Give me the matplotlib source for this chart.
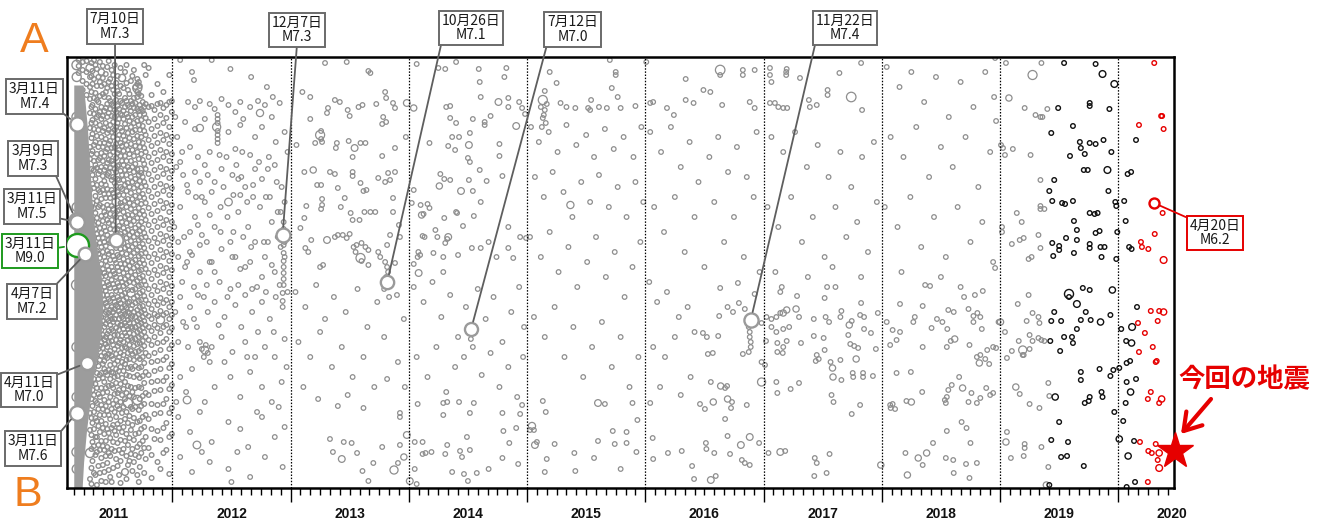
import datetime as dt
import numpy as np
import matplotlib
matplotlib.use("Agg")
import matplotlib.pyplot as plt
from matplotlib.transforms import blended_transform_factory

plt.rcParams['font.family'] = ['Noto Sans CJK JP', 'DejaVu Sans']

W, H, DPI = 1326, 526, 100

# ---------------- data ----------------
YEARS = list(range(2011, 2021))
X_START, X_END = 2011.107, 2020.467
DIST_MAX = 431          # distance along A-B (A = 0 at top)

# major earthquakes
EV_DATE = ["2011-03-09", "2011-03-11", "2011-03-11", "2011-03-11", "2011-03-11",
           "2011-04-07", "2011-04-11", "2011-07-10", "2012-12-07", "2013-10-26",
           "2014-07-12", "2016-11-22", "2020-04-20"]
EV_MAG = [7.3, 7.4, 7.5, 9.0, 7.6, 7.2, 7.0, 7.3, 7.3, 7.1, 7.0, 7.4, 6.2]
EV_DIST = [163, 67, 165, 188, 356, 197, 306, 183, 178, 225, 272, 263, 146]

STAR_DATE, STAR_MAG, STAR_DIST = "2020-06-25", 6.1, 394

# dense aftershock core of 2011 (months after 2011-01-01)
BAND_DIST = [28, 45, 73, 105, 143, 180, 200, 220, 245, 270, 295, 320, 345, 373, 405, 431]
BAND_START = [2.0] * 16
BAND_END = [2.95, 3.15, 3.4, 3.6, 3.85, 4.2, 4.5, 4.8, 4.95, 4.85, 4.5, 4.0, 3.65, 3.3, 3.0, 2.85]

# 2011 events grouped by month slice  "month: dist[/mag], ..."
EQ_2011 = """
2.3: 8/6.0, 20/5.8, 60/6.0, 150/5.8, 228/6.3, 290/6.0, 340/5.9, 395/6.0, 412/5.8;
2.5: 3, 9, 16;
2.9: 5, 13, 24, 33;
3.3: 4, 15, 27, 38;
3.65: 11/5.6, 20, 30, 42, 56, 71, 90, 102, 133, 176, 252, 270, 303, 318, 356, 373, 396/5.8, 422;
3.9: 14, 27, 48, 63, 77, 94, 118, 127, 146, 163, 185, 241, 262, 282, 297, 315, 333, 349, 366, 385, 404;
4.2: 8, 36, 52, 66, 85, 108, 122, 139, 156, 172, 188, 204, 228, 255, 270, 288, 306, 327, 344, 361, 380, 398, 418;
4.5: 20, 45, 58, 73, 90, 103, 117, 133, 150, 166, 181, 197, 213, 226, 239, 251, 263, 276, 292, 309, 322, 337, 352, 369, 388, 409;
4.8: 15/5.2, 29, 50, 62, 80, 96, 110, 127, 142, 159, 176, 190, 207, 220, 233, 246, 260, 273, 285, 299, 316, 331, 348, 364, 384, 401, 424;
5.1: 27, 40, 54, 71, 86, 99, 113, 124, 137, 155, 170, 185, 200, 216, 230, 243, 257, 270, 283, 296, 304, 312, 325, 343, 358, 377, 393, 415;
5.4: 10, 31, 47, 60, 76, 92, 106, 118, 132, 148, 163, 178, 194, 209, 225, 238, 249, 262, 277, 290, 301, 318, 335, 354, 372, 390, 406;
5.7: 22, 44, 52, 68, 84, 98, 111, 117/5.8, 141, 157, 172, 186, 203, 218, 231, 244, 253, 259, 268, 280, 294, 308, 322, 340, 362, 381, 399, 420;
6.0: 18, 33, 49, 65, 80, 95, 107, 120, 136, 152, 168, 182, 199, 214, 227, 241, 255, 265, 274, 288, 302, 316, 331, 347, 368, 385, 411;
6.3: 26, 43, 55, 70, 87, 101, 115, 129, 145/5.6, 160, 176, 191, 206, 220, 234, 248, 258, 271, 283, 297, 312, 326, 343, 360, 378, 402;
6.6: 37, 52, 62, 78, 93, 108, 123, 138, 153, 169, 185, 200, 214, 229, 243, 254, 262, 273, 286, 300, 314, 333, 352, 371, 393, 418;
6.9: 21/5.4, 46, 58, 74, 89, 104, 118, 132, 149, 165, 180, 196, 211, 225, 238, 251, 260, 268, 279, 291, 305, 321, 338, 356, 375, 396;
7.2: 15, 41, 50, 67, 83, 99, 113, 128, 144, 160, 175, 191, 207, 222, 236, 249, 257, 266, 276, 290, 307, 325, 342, 362, 384, 415/5.3;
7.5: 33, 48, 60, 76, 93, 110, 126, 142, 158, 173, 189, 204, 219, 233, 246, 255, 263, 272, 283, 296, 311, 329, 346/5.8, 366, 388, 408;
7.8: 24, 44, 54, 70, 87, 104, 120, 136, 152, 168, 184, 199, 215, 236/5.6, 252, 261, 270, 281, 294, 310, 330, 350, 373, 397;
8.1: 13, 41, 51, 66, 82, 99, 115, 131, 148, 164, 180, 196, 211, 226, 241, 255, 266, 277, 289, 303, 320, 340, 361, 383, 405;
8.45: 22, 27, 31/5.8, 35, 40, 52, 64, 79, 95, 112, 128, 145, 161, 177, 193, 209, 224, 239, 253, 264, 275, 287, 300, 318, 343/5.9, 365, 390, 418;
8.7: 29, 48, 58, 73, 90, 113/5.5, 124, 140, 157, 174, 190, 206, 221, 236, 250, 262, 273, 286, 302, 321, 342, 364, 387, 410;
9.0: 45, 54, 69, 86, 103, 120, 137, 154, 171, 187, 203, 219, 234, 249, 260, 271, 284, 300, 319, 339, 360, 384;
9.3: 18, 47, 61, 78, 95, 112, 129, 146, 163, 180, 196, 212, 228, 243, 257, 268, 280, 296, 315, 336, 358, 380, 402;
9.6: 11, 50, 65, 83, 100, 117, 134, 151, 168, 184, 200, 216, 232, 247, 259, 270, 283, 299, 318, 338, 362, 391;
9.9: 38, 49, 72, 89, 106, 123, 140, 157, 174, 190, 206, 222, 238, 252, 262, 274, 288, 305, 325, 347, 372, 398, 421;
10.2: 53, 62, 79, 96, 113, 130, 147, 164, 181, 197, 213, 229, 244, 257, 268, 280, 296, 314, 334, 357, 382;
10.5: 27, 47, 69, 86, 103, 120, 137, 154, 170, 186, 202, 218, 234, 248, 259, 271, 286, 304, 324, 348, 374, 405;
10.8: 46, 58, 76, 93, 110, 127, 144, 161, 177, 193, 209, 225, 241, 254, 263/5.6, 276, 293, 312, 333, 356, 383, 412;
11.1: 35, 51, 66, 83, 100, 117, 134, 151, 168, 184, 200, 216, 232, 246, 258, 270, 285, 303, 324, 347, 371, 396;
11.4: 48, 61, 78, 95, 112, 129, 146, 163, 179, 195, 211, 227, 243, 256, 268, 282, 300, 320, 342, 366, 393;
11.7: 18, 45, 70, 87, 104, 121, 138, 155, 172, 188, 204, 220, 236, 250, 262, 275, 292, 311, 332, 356, 380, 417;
11.95: 44, 55, 80, 97, 114, 131, 148, 165, 181, 197, 213, 229, 245, 258, 271, 288, 307, 328, 351, 377
"""

EQ_2011_B = """
3.8: 6, 19, 35, 50, 66, 81, 97, 112, 150, 196, 310, 327, 342, 361, 378, 392, 411, 427;
4.05: 3, 22, 41, 57, 72, 88, 104, 113, 131, 151, 168, 180, 197, 215, 233, 247, 275, 293, 311, 322, 338, 355, 372, 389, 416;
4.35: 12, 29, 43, 60, 79, 97, 111, 128, 144, 161, 177, 194, 209, 221, 235, 244, 258, 268, 281, 298, 316, 331, 346, 364, 380, 395, 428;
4.65: 5, 25, 39, 55, 68, 86, 101, 114, 135, 148, 171, 186, 201, 215, 230, 241, 254, 266, 280, 289, 303, 318, 340, 358, 375, 393, 416;
4.95: 9, 21, 37, 59, 74, 90, 104, 119, 133, 150, 164, 181, 195, 212, 226, 238, 251, 264, 278, 291, 307, 321, 336, 352, 371, 389, 408;
5.25: 17, 35, 51, 66, 82, 95, 110, 128, 141, 158, 174, 189, 204, 219, 234, 246, 255, 267, 280, 287, 299, 315, 331, 349, 367, 384, 399, 425;
5.55: 4, 25, 41, 56, 73, 87, 103, 116, 137, 152, 166, 183, 197, 213, 228, 242, 256, 264, 274, 285, 297, 313, 329, 345, 358, 376, 396, 413;
5.85: 13, 29, 47, 59, 75, 91, 104, 123, 133, 149, 163, 180, 195, 210, 223, 238, 250, 262, 272, 284, 299, 315, 328, 352, 371, 392, 425;
6.15: 8, 37, 53, 60, 73, 90, 112, 126, 140, 158, 173, 188, 203, 217, 231, 245, 252, 262, 278, 292, 307, 320, 337, 355, 374, 394;
6.45: 19, 34, 49, 66, 82, 96, 109, 122, 135, 154, 172, 183, 198, 210, 226, 240, 250, 266, 278, 289, 304, 319, 336, 349, 367, 386, 409;
6.75: 11, 29, 44, 57, 71, 86, 99, 114, 130, 146, 161, 177, 192, 207, 221, 234, 246, 257, 268, 283, 296, 310, 327, 345, 364, 383, 404, 426;
7.05: 31, 54, 62, 79, 94, 108, 123, 138, 155, 171, 186, 202, 216, 229, 243, 254, 262, 272, 285, 298, 314, 332, 350, 370, 392;
7.35: 8, 26, 44, 57, 71, 88, 104, 118, 134, 150, 166, 181, 197, 212, 227, 241, 251, 259, 269, 279, 291, 303, 318, 336, 355, 377, 399, 422;
7.65: 37, 50, 64, 81, 97, 113, 130, 146, 162, 178, 193, 209, 225, 245, 256, 266, 276, 288, 302, 319, 339, 359, 381, 404;
7.95: 19, 47, 60, 75, 93, 110, 125, 142, 158, 175, 190, 205, 221, 233, 248, 259, 271, 283, 297, 312, 335, 352, 368, 392, 414;
8.25: 30, 46, 58, 73, 89, 107, 122, 139, 155, 171, 187, 203, 218, 232, 246, 260, 270, 282, 295, 309, 331, 350, 377, 398;
8.6: 25, 37, 54, 68, 85, 102, 118, 134, 151, 168, 183, 199, 214, 229, 244, 257, 268, 280, 294, 311, 330, 353, 376, 400, 425;
8.85: 39, 52, 63, 80, 97, 116, 130, 147, 165, 181, 197, 213, 228, 243, 255, 266, 278, 292, 310, 331, 349, 372, 396;
9.15: 8, 50, 57, 74, 91, 107, 125, 141, 158, 176, 191, 207, 224, 239, 253, 264, 275, 289, 306, 326, 347, 370, 391, 416
"""

# later years: "month,dist[,mag]"
EQ_2012 = """
0.8,3 4.0,3 2.0,15 2.2,23 5.9,12 8.0,20 9.6,30
1.6,45 2.3,50 2.8,44 3.8,47 4.3,52 5.0,42 5.7,48 6.4,55 6.9,45 7.9,50 8.7,44 9.4,48 10.9,46 10.2,40 8.9,56,5.4
4.6,58 4.6,62 4.6,66 4.6,74 4.6,78 4.6,82 4.6,86 4.5,70,5.6 2.8,71,5.4
1.3,65 2.3,72 3.3,62 5.7,75 6.9,68 8.4,80 9.1,70 10.1,60 11.4,75 1.8,90 3.8,95 6.4,92 7.9,98 7.2,62 10.5,85 0.5,80
0.8,105 2.3,115 3.3,108 4.3,125 5.0,112 6.1,118 7.4,130 8.4,112 9.1,122 10.4,108 11.1,130 1.6,135 6.9,138 2.8,125 9.8,100 5.5,100
5.7,145,5.5 0.8,150 2.3,160 3.3,145 4.3,170 6.7,155 7.7,170 8.9,150 10.1,165 11.4,145 1.8,175 9.5,140 3.8,158
0.6,185 1.8,195 2.8,188 4.0,205 5.0,192 6.4,200 7.4,210 8.4,185 9.4,200 10.4,215 4.3,215 3.0,178 11.0,190
11.3,165 11.3,172 11.3,180 11.3,188 11.3,196 11.3,204 11.3,210 11.3,216 11.3,222 11.3,228 11.2,236 11.2,244 11.4,200 11.4,185
0.6,200 1.3,210 2.0,198 2.8,215 3.8,205 4.8,225 6.1,200 6.9,212 7.9,205 9.1,220 10.1,208 10.9,228
0.8,240 1.8,250 2.6,238 3.6,255 4.3,245 5.3,260 6.4,248 7.4,238 8.1,255 9.1,245 9.9,262 11.2,250
2.8,285 3.0,292 3.2,300 3.4,288 3.6,296 3.8,305 4.0,290 3.3,293,5.5 0.6,285 1.6,290 5.0,280 6.1,295 7.4,285 8.4,300 9.4,290 10.4,300 11.4,282 7.0,270 8.7,275
0.8,320 1.4,335 2.0,312 3.3,345 4.3,330 5.9,320 6.9,340 7.9,315 9.1,330 10.1,345 11.1,325 1.5,343,5.5
0.6,360 1.8,375 2.8,355 4.0,385 5.7,365 6.9,372 7.7,390 9.1,360 10.4,380 11.4,370 2.5,388,5.5 3.0,395
0.8,400 2.0,415 3.8,405 5.7,412 7.9,420 9.4,400 11.2,410 6.0,425
0.3,60 1.1,118 1.5,205 2.5,270 3.5,228 4.9,150 5.3,305 6.2,175 6.6,395 7.1,95 7.6,300 8.1,232 8.6,355 9.7,112
10.3,275 10.7,155 11.6,310 0.4,345 1.1,265 2.4,140 4.7,268 5.9,232 6.7,122 8.2,140 9.3,185 10.8,350 11.7,95
0.4,110 1.0,95 1.5,128 2.6,100 3.0,140 3.6,118 4.0,135 4.8,98 5.2,130 5.6,160 6.2,138 6.5,108 7.0,120
7.6,145 8.2,128 8.8,105 9.9,140 10.6,125 11.0,155 0.2,170 1.2,180 2.6,168 3.5,185 4.9,175 5.9,185 7.2,180
8.0,190 9.7,185 10.7,180 1.0,225 2.2,230 3.2,240 5.6,240 6.7,228 8.6,230 9.5,235 10.5,240 11.7,235
0.3,255 1.4,270 2.2,262
"""

EQ_2013 = """
3.5,6 5.7,5 7.9,14 8.1,16 1.2,35 2.0,40 4.5,43 5.0,45 3.8,51 5.8,53 6.9,50 7.3,48 8.7,47 9.6,35 9.7,41
10.4,46 10.6,51 3.7,56 6.0,59 9.4,60 9.7,65 9.3,67 2.0,62 3.0,78,5.8 3.1,74 3.1,82 3.2,85 2.5,86 4.7,86
4.6,91 5.9,84 6.5,91,5.3 7.1,86 7.6,86 6.3,100 9.3,99 10.6,91 11.7,80 0.6,88 2.3,113,5.2 4.0,115 4.5,117
6.3,115 6.3,119 7.1,126 7.7,133 8.9,121 9.6,125 10.1,123 10.6,115 9.9,116 1.4,115 2.7,128 3.1,128 3.2,142
3.2,148 3.1,152 1.6,149 4.8,131 5.5,141 7.4,134 5.1,150 6.1,156 6.3,163 7.0,163 7.5,155 8.1,155 8.6,155
10.4,141 10.4,155 1.0,171 1.4,161 2.1,183 1.5,191 1.8,195 3.0,210 3.3,208 3.7,183,5.3 4.5,180 4.8,178
5.3,178 5.7,181 6.0,177 6.4,190 6.7,188 7.2,186 7.6,190 7.9,193 6.6,195 7.1,201,5.8 7.2,204 7.9,208
8.9,195 9.1,200 9.8,188 10.1,178 9.6,205 9.8,210 9.9,215 9.7,220 10.6,206 11.0,168 11.1,180 11.8,46,5.3
0.5,235 1.5,250 2.6,228 3.5,262 4.4,240 5.6,255 6.8,232 7.8,270 8.8,245 10.8,238 11.5,262 0.8,285
2.0,300 3.0,275 4.2,310 5.2,290 6.3,320 7.4,300 8.5,330 9.5,280 10.9,305 11.6,330 1.3,330 2.8,342
5.8,338 9.8,322 9.5,232 10.0,240
4.8,349 7.4,351 4.0,382 5.4,385 6.2,386 4.3,395 6.75,396 9.3,390 11.1,388 11.8,378,5.3 11.1,360 11.1,356
5.2,402,5.3 8.4,406 7.3,414 10.5,413,5.6 10.9,406 11.5,400,5.2 7.9,424
"""

EQ_2014 = """
0.8,7 3.0,11 3.7,12 4.8,5 7.1,12 9.9,11 9.7,20 7.2,25 7.3,40 9.1,45,5.3 10.1,41 10.1,50 11.2,45 11.5,51
11.8,57 0.5,51,5.2 3.8,50 4.2,49 4.2,61 4.8,66 6.5,62 8.3,59 7.7,68 7.7,65 6.2,76 2.1,86 4.0,89 5.1,80
4.4,80 6.1,88,5.3 4.7,93 9.2,87 9.2,99 10.9,69,5.3 6.0,101 6.2,105 7.2,113 7.9,124 9.5,119 3.2,117
3.1,129,5.2 3.6,122 4.2,123 5.3,134,5.3 6.1,123 6.5,134 0.5,133 0.3,146 1.2,148 1.9,147 2.1,151
1.3,158,5.2 1.5,157 3.6,161 4.8,155 4.9,156 6.6,159 7.3,145 10.1,170 5.5,169 2.7,173 1.4,179 1.6,180
2.9,180 4.0,180,5.3 3.7,186 3.9,182 0.97,195 1.15,198 0.9,200 2.5,196 3.5,200 5.0,198 6.4,191 7.3,191
8.1,185 8.9,200 10.1,191 10.6,201 11.3,180 11.9,181 3.5,215 1.0,216,5.3 0.5,207
0.5,230 1.5,245 2.4,225 3.3,260 4.2,238 5.0,280 5.8,250 7.0,232 7.8,262 8.6,240 9.5,285 10.4,255
11.2,230 11.7,270 0.8,300 1.9,320 2.8,290 3.8,335 4.7,310 5.6,300 7.4,318 8.3,296 9.2,330 10.1,310
11.0,340 11.6,300 6.3,282 6.5,290
0.9,347 3.5,346 3.9,345 5.1,345 6.6,346 3.5,358 6.2,356 9.5,356 11.3,357 11.5,348 9.6,374 10.9,371
5.9,380 0.6,385 1.4,385 3.9,388 10.2,386 1.4,397 1.7,396 2.3,395 3.7,397 5.2,394 6.2,393 5.4,400
9.5,401 0.6,412 4.4,415 5.6,417 6.9,416 8.1,412 11.1,407 6.0,424 0.1,424,5.3 0.8,427
"""

EQ_2015 = """
1.6,43,5.8 1.8,53 1.6,61 1.7,58 1.9,66 1.5,70 8.4,3 9.0,15 9.0,18 2.3,15 3.0,26 1.8,34 8.6,31 9.2,40
3.4,46 4.0,50 4.9,51 6.2,51 6.4,53 7.3,50 8.1,51 9.5,51 6.5,43 11.0,49 2.0,47 1.4,50
0.4,70 1.2,85 2.2,75 3.1,95 4.0,68 5.0,88 6.0,78 6.8,100 7.9,72 8.8,92 9.8,80 10.8,100 11.6,70
0.8,120 1.7,140 2.6,115 3.7,135 4.6,160 5.5,125 6.4,145 7.3,118 8.3,150 9.2,130 10.1,160 11.0,125
11.8,145 0.3,180 1.4,200 2.3,175 3.2,215 4.2,190 5.1,230 6.1,205 7.0,180 8.0,220 8.9,195 9.9,240
10.7,210 11.5,185 0.7,260 1.8,280 2.8,250 3.8,300 4.7,270 5.7,320 6.6,290 7.6,265 8.6,310 9.5,280
10.4,330 11.3,300 4.4,148,5.4
1.6,344 1.9,355 0.5,369,5.4 0.3,373 0.7,373 1.0,385 0.8,388,5.3 2.8,387 2.0,402 1.8,415 4.8,396
4.9,414 6.8,401 7.2,384 7.2,346,5.3 7.9,347 8.7,374 8.9,387 9.5,412 10.1,386 10.1,375 10.7,346
11.1,395 11.2,363
"""

EQ_2016 = """
0.1,5 7.6,13,6.0 7.6,18 9.9,13 9.9,18 11.1,13 4.1,22 5.9,33 6.6,35 7.8,48 4.1,43 4.9,46 10.6,45
11.1,51 0.5,46 0.8,45 2.2,51 2.9,58
0.5,75 1.6,95 2.6,70 3.6,110 4.5,85 5.4,125 6.5,100 7.4,80 8.4,115 9.3,90 10.3,120 11.3,75 0.9,150
1.9,175 3.0,140 4.0,195 5.0,160 6.0,210 7.0,145 8.0,185 9.0,160 10.0,200 11.0,140 11.6,215
0.4,225 1.2,245 2.2,235 3.4,260 4.3,250 5.0,275 0.8,290 2.0,300 3.0,280 4.6,320 1.5,330 3.6,338
7.6,231 9.4,226 11.1,237 8.35,250 8.9,255 9.5,246 10.1,252 7.5,259 5.85,276 6.25,280 7.4,279
6.35,297 6.85,296 9.9,297 6.65,325 7.65,329,5.2 8.1,331 8.3,329 8.35,342,5.2 8.8,345 8.7,351
10.3,348 10.6,380,5.3 9.7,388,5.3 11.55,386 8.6,397 9.8,403 10.1,406 10.6,408 11.8,305 11.8,325,5.6
11.8,266 10.5,270 10.6,275 10.6,280 10.7,285 10.7,290 10.5,295
0.5,346 0.75,381 0.8,402 2.3,396 3.7,394 4.75,409 4.95,422 6.15,386 6.2,392 7.0,396 6.05,352
5.55,347 6.9,345,5.2 8.1,362 8.35,379 6.65,423,5.3 7.15,419
"""

EQ_2017 = """
0.65,11 0.65,18 0.8,25 2.3,15 2.35,12 2.3,18 3.7,21 6.5,33 6.5,38 7.7,16 8.9,40,6.0 9.9,6 10.0,53
4.6,43 4.7,50 5.4,48 0.65,46 1.15,46 1.5,50 2.0,51 2.4,51
0.8,80 2.0,95 3.2,75 4.4,110 5.5,88 6.6,120 7.8,95 8.9,130 10.0,100 11.2,85 0.4,150 1.5,170 2.8,140
3.9,185 5.0,160 6.2,200 7.3,150 8.4,180 9.5,165 10.6,195 11.5,145 1.2,215 4.5,220 7.0,210 9.9,220
0.3,260 0.8,262 1.3,260 1.7,256 2.35,253,5.2 2.0,256,5.2 3.3,252,5.2 3.6,260 0.8,270 1.3,275 2.0,272
2.6,270 0.25,284 1.4,286 2.35,284 2.0,290 1.4,295 1.95,296 3.8,286 3.4,239 1.85,230 1.7,235 6.2,241
6.45,230 7.3,230 5.1,262 6.3,260 6.65,265 7.9,254 7.8,260 8.7,268,5.2 8.95,264 9.9,246 9.8,258
10.2,260 11.6,256 5.1,279 6.1,281 8.6,278 8.8,287 9.2,289 9.6,291 10.2,272 10.9,276 11.4,292 6.2,293
5.4,298 5.6,302 5.3,304 6.8,305 7.8,303 9.4,302,5.2 7.0,311,5.2 7.05,320,5.2 7.9,323 9.05,316 9.1,320
10.1,316 10.1,320 11.1,319 3.6,326 1.3,325 2.75,332 1.4,336 6.9,338 7.1,345 9.8,348 8.95,357 0.5,396
1.7,395,5.3 2.2,394 5.2,401 5.4,406 6.7,397 5.15,419 6.4,416 11.9,408,5.2 0.15,308
"""

EQ_2018 = """
0.5,10 1.8,30 3.0,15 4.3,45 5.5,20 6.8,60 8.0,25 9.3,50 10.5,15 11.4,40 0.9,80 2.2,100 3.5,70 4.8,120
6.0,90 7.2,110 8.5,80 9.8,130 11.0,95 0.3,150 1.6,170 2.9,140 4.0,190 5.3,160 6.5,200 7.7,150 9.0,185
10.2,165 11.3,205 2.0,215 6.0,220 11.5,1 11.6,64 11.5,211
0.5,265 1.1,273 1.85,275 1.5,283 0.85,288 1.85,247 3.2,265 3.35,260 4.15,249 4.15,290 4.4,228 4.9,229
5.05,271 5.6,262 6.15,265 6.75,253 7.3,255 6.65,272 7.0,284 7.4,282,5.2 6.6,290 8.0,230 8.35,240
8.8,252 9.3,259 9.7,256 9.3,265 10.0,260 9.45,238 10.25,234 10.15,272 8.9,288 9.65,300 10.0,298
9.9,306,5.2 10.9,307 11.85,265 10.7,293 11.3,290 11.6,291 10.5,302 1.5,316 0.9,351 0.85,348 1.1,347
1.35,352 2.5,344 3.0,345,5.2 2.95,315 4.1,335 6.6,340 6.4,343 6.5,346 6.75,333 7.1,328 8.2,331,5.2
7.85,320 9.1,336 10.0,341 10.6,331 11.0,338 11.3,336 8.8,345 9.65,346 8.1,365 8.6,371 6.6,374 5.2,386
9.0,386 2.4,396 3.7,401,5.2 4.55,396,5.2 4.15,408 6.5,401 7.25,403 8.55,407 9.65,406 7.3,416 8.9,421
2.6,418,5.2
"""

EQ_2019_PAST = """
0.6,6 3.3,18,5.8 4.2,6 0.9,41,5.2 2.5,51 3.6,58 4.1,60 4.3,60 4.8,52 0.3,91 0.5,98 1.3,92 3.1,98 0.1,88
4.1,123 4.1,149 4.1,152 4.5,152 1.7,156 2.2,165 0.2,170 0.2,175 3.9,178 2.4,181 2.0,183 1.2,187 4.1,191
2.9,202 3.2,200 2.9,238 1.8,247 0.05,265,5.2 0.5,275 2.7,264 3.3,256 3.9,260 4.0,266 3.0,278 3.3,284
3.9,281 4.2,283 4.5,284 1.9,284 2.3,293,5.6 2.3,298 2.4,298 3.0,292 1.2,294 0.7,301 1.6,330,5.2 2.0,337
4.9,326 5.0,339 4.0,351 3.0,347 0.7,375 0.6,385,5.2 2.5,387 2.5,391 4.2,390 1.1,401 2.4,399 4.9,410
4.7,428,5.2
"""

EQ_2019_RECENT = """
6.5,6 9.7,7 10.4,17,5.3 11.6,27,5.3 5.9,51 9.1,46 9.1,49 11.1,52 5.2,76 7.4,69 8.1,85 8.2,91 9.1,86
9.7,87 10.5,83 7.1,99 8.6,97 11.3,95 8.5,113 8.9,113 10.9,113,5.3 5.5,123 5.0,134 11.0,134 5.3,144
6.3,146 6.6,147 7.4,144 11.7,145 11.8,149 9.1,156 9.6,157 9.9,156 7.5,164 7.8,173 9.7,176 10.1,174
11.9,175 6.7,181 7.8,183 5.3,186 6.0,189 6.0,193 9.1,187 9.1,191 10.2,190 10.6,190 5.4,199 7.5,196
10.3,200 11.8,202 7.0,237,5.8 7.0,240 8.4,231 9.1,233 11.4,233,5.2 7.8,247,5.3 5.5,255 8.7,255
11.2,258 5.2,264 6.2,264 8.2,263 9.2,263 10.2,265,5.2 7.8,272 5.1,284 6.5,280 7.3,280 7.4,286 6.1,294
8.2,315 8.2,323 10.1,312 11.2,319 11.5,313 10.3,335 10.4,340 9.1,340 9.0,344 8.6,346 5.6,340,5.2
11.6,355 6.0,365 5.2,383 6.9,385 6.2,400 6.8,399 8.5,409 5.0,428
"""

EQ_2020_RECENT = """
0.6,144 0.75,164 0.95,117 1.3,115 1.8,83 1.1,190 1.35,192 0.3,272 1.4,270,5.3 1.9,250 0.8,284
1.35,286,5.2 0.85,306 1.2,304 0.1,311 0.85,325 1.8,322 1.25,335,5.2 0.75,346 0.5,364 0.1,382,5.2
1.6,384 1.0,399,5.2 1.7,425 0.85,430
"""

EQ_2020_LATEST = """
3.65,6 2.1,68 4.35,59 4.45,59 4.6,72 4.5,156 3.7,177 2.3,185 2.4,190 3.05,192 4.6,203,5.3 3.3,254
4.15,254 4.6,255,5.2 2.0,266 4.0,264 2.7,276 2.1,295 3.5,290 3.8,305 3.9,304 3.3,335 3.0,342
4.4,342,5.2 4.15,346 2.2,385 3.8,387 3.05,394 3.4,396 4.15,396,5.2 4.0,403 4.15,411,5.3 3.0,425
"""

PAST_SETS = [(2012, EQ_2012), (2013, EQ_2013), (2014, EQ_2014), (2015, EQ_2015),
             (2016, EQ_2016), (2017, EQ_2017), (2018, EQ_2018), (2019, EQ_2019_PAST)]
RECENT_SETS = [(2019, EQ_2019_RECENT), (2020, EQ_2020_RECENT)]
LATEST_SETS = [(2020, EQ_2020_LATEST)]

# ---------------- helpers ----------------
def decimal_year(s):
    d = dt.date.fromisoformat(s)
    start = dt.date(d.year, 1, 1)
    n = (dt.date(d.year + 1, 1, 1) - start).days
    return d.year + ((d - start).days + 0.5) / n


def parse_points(year, text):
    t, d, m = [], [], []
    for tok in text.split():
        p = tok.split(',')
        t.append(year + float(p[0]) / 12.0)
        d.append(float(p[1]))
        m.append(float(p[2]) if len(p) > 2 else 4.5)
    return t, d, m


def parse_slices(year, text):
    t, d, m = [], [], []
    for part in text.split(';'):
        part = part.strip()
        if not part:
            continue
        mon, vals = part.split(':')
        for v in vals.split(','):
            v = v.strip()
            if '/' in v:
                dv, mv = v.split('/')
            else:
                dv, mv = v, 4.5
            t.append(year + float(mon) / 12.0)
            d.append(float(dv))
            m.append(float(mv))
    return t, d, m


MAG_REF = [4.5, 5.2, 5.5, 5.8, 6.2, 7.0, 7.6, 9.0]
DIAM_PT = [3.3, 4.5, 5.5, 6.5, 7.2, 9.4, 10.6, 16.6]


def diam(mag):
    return np.interp(mag, MAG_REF, DIAM_PT)


GRAY = '#8e8e8e'
BLACK = '#111111'
RED = '#e60000'
GREEN = '#1e9a1e'
LINE_GRAY = '#5e5e5e'
EV_GRAY = '#9a9a9a'

# ---------------- figure ----------------
fig = plt.figure(figsize=(W / DPI, H / DPI), dpi=DPI)
ax = fig.add_axes([66.7 / W, 38 / H, (1173.5 - 66.7) / W, 431 / H])
ax.set_xlim(X_START, X_END)
ax.set_ylim(DIST_MAX, 0)

# dense core band
ax.fill_betweenx(BAND_DIST, [2011 + v / 12 for v in BAND_START],
                 [2011 + v / 12 for v in BAND_END], color='#9c9c9c', lw=0, zorder=1.2)


def scatter_set(t, d, m, color, z, lw=0.9):
    ax.scatter(t, d, s=diam(np.array(m)) ** 2, facecolors='none', edgecolors=color,
               linewidths=lw, zorder=z)


for txt in (EQ_2011, EQ_2011_B):
    t, d, m = parse_slices(2011, txt)
    scatter_set(t, d, m, GRAY, 1, 1.0)
for yr, txt in PAST_SETS:
    t, d, m = parse_points(yr, txt)
    scatter_set(t, d, m, GRAY, 1)
for yr, txt in RECENT_SETS:
    t, d, m = parse_points(yr, txt)
    scatter_set(t, d, m, BLACK, 1.5, 1.0)
for yr, txt in LATEST_SETS:
    t, d, m = parse_points(yr, txt)
    scatter_set(t, d, m, RED, 1.6, 1.0)

# year separators
for yr in YEARS[1:]:
    ax.axvline(yr, color='black', lw=0.9, ls=(0, (1.2, 1.3)), zorder=2.5)

# major events
EV_T = [decimal_year(s) for s in EV_DATE]
EV_YEAR = [int(s[:4]) for s in EV_DATE]
EV_EDGE = [GREEN if m_ >= 9.0 else (RED if y_ >= 2020 else EV_GRAY)
           for m_, y_ in zip(EV_MAG, EV_YEAR)]
for tt, dd, mm, ec in zip(EV_T, EV_DIST, EV_MAG, EV_EDGE):
    ax.scatter([tt], [dd], s=diam(mm) ** 2, facecolors='white', edgecolors=ec,
               linewidths=1.7, zorder=5)

# labels (box centre in image pixels from top-left) and connector anchor
LBL_POS = [(33, 158.5), (34.5, 96.5), (32, 206.5), (30, 251), (33, 448.5), (32, 301.5),
           (29, 390), (115, 26.5), (297, 30), (471, 28), (572.7, 29.5), (845, 28),
           (1215, 233)]
LBL_REL = [(1, 0), (1, 0), (1, 0.1), (1, 0.6), (1, 1), (1, 1), (1, 1), (0.5, 0), (0.5, 0),
           (0, 0), (0, 0), (0, 0), (0, 1)]
for tt, dd, mm, ec, date, pos, rel in zip(EV_T, EV_DIST, EV_MAG, EV_EDGE, EV_DATE,
                                          LBL_POS, LBL_REL):
    dd_ = dt.date.fromisoformat(date)
    txt = f"{dd_.month}月{dd_.day}日\nM{mm:.1f}"
    box_col = ec if ec != EV_GRAY else '#6a6a6a'
    line_col = ec if ec != EV_GRAY else LINE_GRAY
    ax.annotate(txt, xy=(tt, dd), xycoords='data',
                xytext=(pos[0], H - pos[1]), textcoords='figure pixels',
                ha='center', va='center', fontsize=10, linespacing=1.05,
                color='#1a1a1a', annotation_clip=False, zorder=7,
                bbox=dict(boxstyle='square,pad=0.22', fc='white', ec=box_col, lw=1.4),
                arrowprops=dict(arrowstyle='-', color=line_col, lw=1.3, shrinkA=0,
                                shrinkB=diam(mm) / 2 + 0.8, relpos=rel))

# current earthquake star
ax.plot([decimal_year(STAR_DATE)], [STAR_DIST], marker='*', ms=27, color=RED,
        mec=RED, clip_on=False, zorder=9, ls='none')
fig.text(1244 / W, 1 - 380 / H, '今回の地震', ha='center', va='center', fontsize=19,
         fontweight='bold', color=RED)
ax.annotate('', xy=(1181, H - 434), xycoords='figure pixels',
            xytext=(1211, H - 399), textcoords='figure pixels',
            arrowprops=dict(arrowstyle='->,head_length=0.6,head_width=0.38', color=RED,
                            lw=3, mutation_scale=20, shrinkA=0, shrinkB=0))

# A / B
fig.text(34 / W, 1 - 52 / H, 'A', ha='center', va='baseline', fontsize=31,
         color='#ef7d1e', family='Liberation Sans')
fig.text(28 / W, 1 - 506 / H, 'B', ha='center', va='baseline', fontsize=31,
         color='#ef7d1e', family='Liberation Sans')

# axes styling
for sp in ax.spines.values():
    sp.set_linewidth(1.8)
    sp.set_color('black')
ax.set_yticks([])
ax.set_xticks(YEARS[1:])
ax.set_xticklabels([])
minor = [yr + (mo - 1) / 12 for yr in YEARS for mo in range(1, 13)
         if X_START <= yr + (mo - 1) / 12 <= X_END and mo != 1]
ax.set_xticks(minor, minor=True)
ax.tick_params(axis='x', which='major', length=10, width=1.0, direction='out')
ax.tick_params(axis='x', which='minor', length=5, width=1.0, direction='out')

trans = blended_transform_factory(ax.transData, ax.transAxes)
for yr in YEARS:
    xpos = yr + 0.5 if yr < 2020 else 2020.455
    ax.text(xpos, -0.0696, str(yr), transform=trans, ha='center', va='baseline',
            fontsize=10, fontweight='bold', family='Liberation Sans', color='#111111')

fig.savefig('out.png', dpi=DPI)
